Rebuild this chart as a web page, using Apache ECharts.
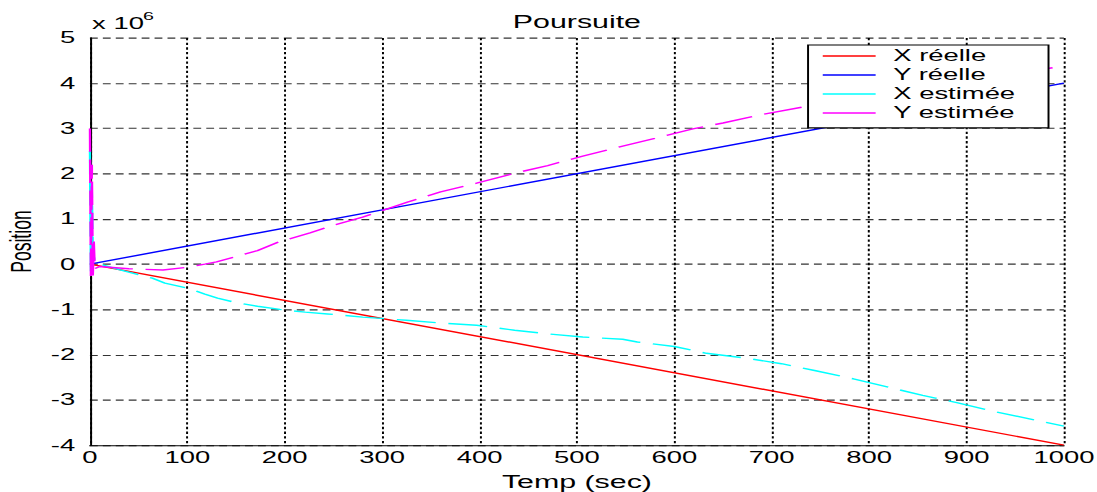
<!DOCTYPE html>
<html>
<head>
<meta charset="utf-8">
<script src="https://cdn.jsdelivr.net/npm/echarts@6/dist/echarts.min.js"></script>
<style>
  html, body { margin: 0; padding: 0; background: #fff; }
  #wrap { position: relative; width: 1097px; height: 492px; overflow: hidden; }
  #main { position: absolute; left: 0; top: 0; width: 560px; height: 420px; transform: scale(1.95893, 1.171429); transform-origin: 0 0; }
</style>
</head>
<body>
<div id="wrap"><div id="main"></div></div>
<script>
// Values in units of 10^6 (as shown by the axis multiplier)
const seriesNames = ['X réelle', 'Y réelle', 'X estimée', 'Y estimée'];
const xTicks = [0, 100, 200, 300, 400, 500, 600, 700, 800, 900, 1000];
const yTicks = [-4, -3, -2, -1, 0, 1, 2, 3, 4, 5];

const xReelle = [[0, 0], [1000, -4]];
const yReelle = [[0, 0], [1000, 4]];
const xEstimee = [
  [0, 2.5], [1, -0.2], [2, 1.6], [3, 0.3], [5, 0.05], [10, 0.0], [30, -0.12], [64, -0.31],
  [77, -0.42], [100, -0.53], [118, -0.66], [131, -0.75], [150, -0.85], [172, -0.93],
  [195, -1.0], [221, -1.06], [244, -1.1], [280, -1.17], [325, -1.24], [360, -1.3],
  [397, -1.35], [436, -1.46], [470, -1.54], [506, -1.61], [547, -1.66], [562, -1.72],
  [600, -1.82], [633, -1.97], [675, -2.08], [710, -2.2], [744, -2.35], [785, -2.54],
  [820, -2.72], [855, -2.9], [890, -3.06], [927, -3.25], [967, -3.43], [1000, -3.58]
];
const yEstimee = [
  [0, 3.0], [1, -0.3], [2, 2.2], [3, -0.25], [4, 0.5], [5, -0.1], [10, -0.05], [40, -0.1],
  [75, -0.13], [100, -0.07], [118, 0.0], [130, 0.05], [150, 0.17], [172, 0.3], [195, 0.5],
  [226, 0.69], [250, 0.86], [280, 1.04], [326, 1.37], [360, 1.6], [397, 1.79], [436, 2.01],
  [470, 2.18], [506, 2.39], [547, 2.61], [580, 2.78], [619, 2.99], [650, 3.12], [688, 3.3],
  [731, 3.47], [800, 3.72], [900, 4.05], [1000, 4.38]
];

const FONT = "'Liberation Sans', Arial, sans-serif";
const chart = echarts.init(document.getElementById('main'), null, { renderer: 'svg' });

chart.setOption({
  backgroundColor: '#ffffff',
  animation: false,
  title: [
    { text: 'Poursuite', left: 294.5, top: 10, padding: 0, textAlign: 'center',
      textStyle: { fontFamily: FONT, fontSize: 15.5, fontWeight: 'normal', color: '#000' } },
    { text: 'x 10', left: 47, top: 13, padding: 0,
      textStyle: { fontFamily: FONT, fontSize: 14, fontWeight: 'normal', color: '#000' } },
    { text: '6', left: 73, top: 8.5, padding: 0,
      textStyle: { fontFamily: FONT, fontSize: 10, fontWeight: 'normal', color: '#000' } }
  ],
  grid: { left: 45.9, right: 16.9, top: 32.4, bottom: 40, containLabel: false, outerBoundsMode: 'none' },
  legend: {
    orient: 'vertical', left: 412.5, top: 38.4,
    padding: [2.4, 17, 5.8, 7.5],
    itemWidth: 27, itemHeight: 1.2, itemGap: 2.2,
    icon: 'rect',
    backgroundColor: '#fff', borderColor: '#000', borderWidth: 1, borderRadius: 0,
    textStyle: { fontFamily: FONT, fontSize: 14, color: '#000', padding: [0, 0, 0, 4] },
    data: seriesNames
  },
  xAxis: {
    type: 'value', min: xTicks[0], max: xTicks[xTicks.length - 1], interval: 100,
    name: 'Temp (sec)', nameLocation: 'middle', nameGap: 21.5,
    nameTextStyle: { fontFamily: FONT, fontSize: 15.5, color: '#000' },
    axisLine: { onZero: false, lineStyle: { color: '#000', width: 1 } },
    axisTick: { show: false },
    axisLabel: { fontFamily: FONT, fontSize: 14, color: '#000', margin: 4,
      formatter: function (v) { return String(v); } },
    splitLine: { show: true, lineStyle: { color: '#000', width: 1, type: [2, 2] } }
  },
  yAxis: {
    type: 'value', min: yTicks[0], max: yTicks[yTicks.length - 1], interval: 1,
    name: 'Position', nameLocation: 'middle', nameGap: 28, nameMoveOverlap: false,
    nameTextStyle: { fontFamily: FONT, fontSize: 15, color: '#000' },
    axisLine: { show: true, onZero: false, lineStyle: { color: '#000', width: 1 } },
    axisTick: { show: false },
    axisLabel: { fontFamily: FONT, fontSize: 14, color: '#000', margin: 7.5,
      formatter: function (v) { return String(v); } },
    splitLine: { show: true, lineStyle: { color: '#333', width: 1, type: [4, 2.6] } }
  },
  series: [
    { name: seriesNames[0], type: 'line', data: xReelle, symbol: 'none',
      lineStyle: { color: '#ff0000', width: 1.2 }, itemStyle: { color: '#ff0000' } },
    { name: seriesNames[1], type: 'line', data: yReelle, symbol: 'none',
      lineStyle: { color: '#0000ff', width: 1.2 }, itemStyle: { color: '#0000ff' } },
    { name: seriesNames[2], type: 'line', data: xEstimee, symbol: 'none',
      lineStyle: { color: '#00ffff', width: 1.2, type: [20, 6.5] }, itemStyle: { color: '#00ffff' } },
    { name: seriesNames[3], type: 'line', data: yEstimee, symbol: 'none',
      lineStyle: { color: '#ff00ff', width: 1.2, type: [20, 6.5] }, itemStyle: { color: '#ff00ff' } }
  ]
});
</script>
</body>
</html>
